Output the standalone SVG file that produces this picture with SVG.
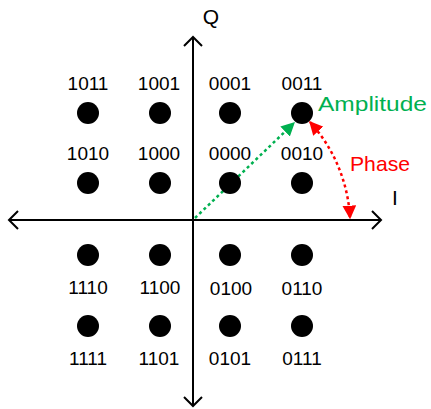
<svg xmlns="http://www.w3.org/2000/svg" width="431" height="409" viewBox="0 0 431 409">
<defs>
<style>
.lbl{font-family:"Liberation Sans",Arial,sans-serif;font-size:19px;fill:#000;text-anchor:middle}
.dot{fill:#000}
.axis{stroke:#000;stroke-width:2;fill:none}
</style>
<marker id="ag" viewBox="0 0 10 10" refX="9" refY="5" markerWidth="5.5" markerHeight="5.5" orient="auto" markerUnits="strokeWidth"><path d="M0,0 L10,5 L0,10 z" fill="#00B050"/></marker>
<marker id="ar" viewBox="0 0 10 10" refX="9" refY="5" markerWidth="5.5" markerHeight="5.5" orient="auto-start-reverse" markerUnits="strokeWidth"><path d="M0,0 L10,5 L0,10 z" fill="#FF0000"/></marker>
</defs>
<rect width="431" height="409" fill="#fff"/>
<g id="connectors">
<path class="axis" d="M9,220 H381 M372,211 L381,220 L372,229 M18,211 L9,220 L18,229"/>
<path class="axis" d="M193,37 V406 M184,46 L193,37 L202,46 M184,397 L193,406 L202,397"/>
<path d="M195,218 L294,123" stroke="#00B050" stroke-width="2.5" stroke-dasharray="3,3" fill="none" marker-end="url(#ag)"/>
<path d="M310,122 A155,155 0 0 1 350,218" stroke="#FF0000" stroke-width="2.5" stroke-dasharray="3,3" fill="none" marker-start="url(#ar)" marker-end="url(#ar)"/>
</g>
<g id="axis-labels">
<text x="211" y="24" class="lbl" style="font-size:21px">Q</text>
<text x="395" y="205" class="lbl" style="font-size:21px">I</text>
<text x="318" y="111" textLength="109" lengthAdjust="spacingAndGlyphs" style="font-family:'Liberation Sans',Arial,sans-serif;font-size:21px;fill:#00B050">Amplitude</text>
<text x="350" y="171" textLength="60" lengthAdjust="spacingAndGlyphs" style="font-family:'Liberation Sans',Arial,sans-serif;font-size:21px;fill:#FF0000">Phase</text>
</g>
<g id="p1011"><circle class="dot" cx="88" cy="113" r="11"/><text class="lbl" x="88" y="90">1011</text></g>
<g id="p1001"><circle class="dot" cx="160" cy="113" r="11"/><text class="lbl" x="159" y="90">1001</text></g>
<g id="p0001"><circle class="dot" cx="230" cy="113" r="11"/><text class="lbl" x="230" y="90">0001</text></g>
<g id="p0011"><circle class="dot" cx="302" cy="113" r="11"/><text class="lbl" x="302" y="90">0011</text></g>
<g id="p1010"><circle class="dot" cx="88" cy="183" r="11"/><text class="lbl" x="88" y="160">1010</text></g>
<g id="p1000"><circle class="dot" cx="160" cy="183" r="11"/><text class="lbl" x="159" y="160">1000</text></g>
<g id="p0000"><circle class="dot" cx="230" cy="183" r="11"/><text class="lbl" x="230" y="160">0000</text></g>
<g id="p0010"><circle class="dot" cx="302" cy="183" r="11"/><text class="lbl" x="302" y="160">0010</text></g>
<g id="p1110"><circle class="dot" cx="88" cy="255" r="11"/><text class="lbl" x="88" y="294">1110</text></g>
<g id="p1100"><circle class="dot" cx="160" cy="255" r="11"/><text class="lbl" x="160" y="294">1100</text></g>
<g id="p0100"><circle class="dot" cx="230" cy="255" r="11"/><text class="lbl" x="231" y="295">0100</text></g>
<g id="p0110"><circle class="dot" cx="302" cy="255" r="11"/><text class="lbl" x="302" y="295">0110</text></g>
<g id="p1111"><circle class="dot" cx="88" cy="326" r="11"/><text class="lbl" x="88" y="365">1111</text></g>
<g id="p1101"><circle class="dot" cx="160" cy="326" r="11"/><text class="lbl" x="159" y="365">1101</text></g>
<g id="p0101"><circle class="dot" cx="230" cy="326" r="11"/><text class="lbl" x="230" y="365">0101</text></g>
<g id="p0111"><circle class="dot" cx="302" cy="326" r="11"/><text class="lbl" x="302" y="365">0111</text></g>
</svg>
